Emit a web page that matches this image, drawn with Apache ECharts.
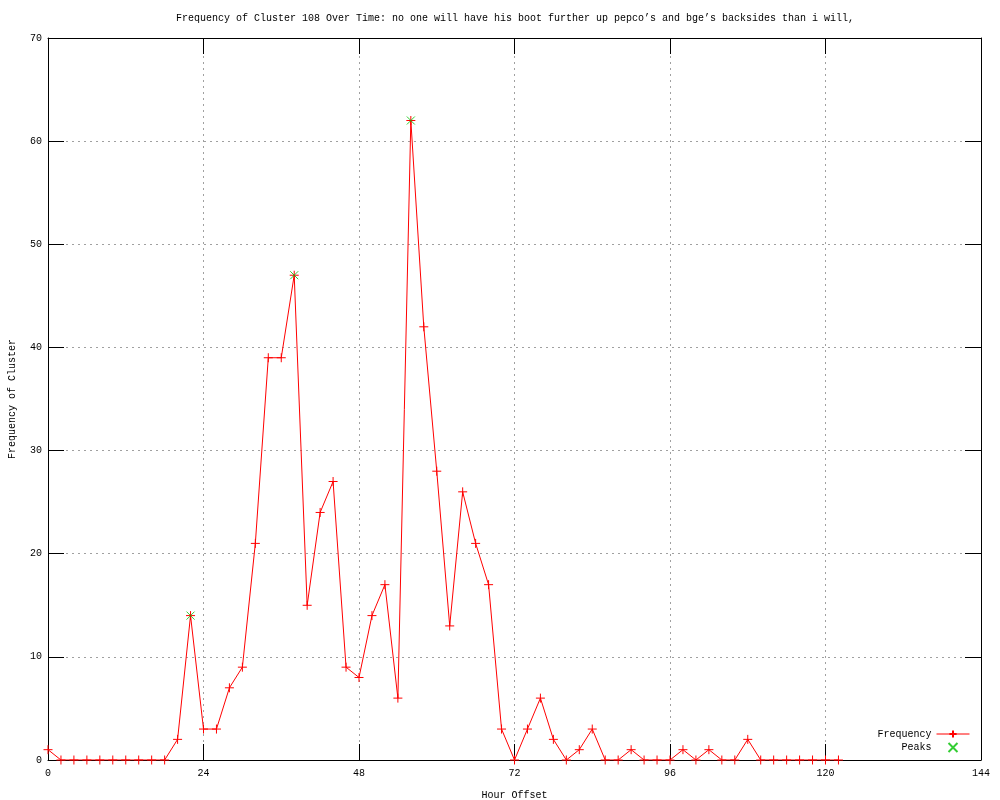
<!DOCTYPE html>
<html>
<head>
<meta charset="utf-8">
<script src="https://cdn.jsdelivr.net/npm/echarts@6/dist/echarts.min.js"></script>
<style>html,body{margin:0;padding:0;background:#fff}#c{width:1000px;height:800px}</style>
</head>
<body>
<div id="c"></div>
<script>
const hours = [0,2,4,6,8,10,12,14,16,18,20,22,24,26,28,30,32,34,36,38,40,42,44,46,48,50,52,54,56,58,60,62,64,66,68,70,72,74,76,78,80,82,84,86,88,90,92,94,96,98,100,102,104,106,108,110,112,114,116,118,120,122];
const freq = [1,0,0,0,0,0,0,0,0,0,2,14,3,3,7,9,21,39,39,47,15,24,27,9,8,14,17,6,62,42,28,13,26,21,17,3,0,3,6,2,0,1,3,0,0,1,0,0,0,1,0,1,0,0,2,0,0,0,0,0,0,0];
const peakHours = [22,38,56];
const peakValues = [14,47,62];
const xTicks = [0,24,48,72,96,120,144];
const yTicks = [0,10,20,30,40,50,60,70];

const FONT = '"Liberation Mono", "DejaVu Sans Mono", monospace';
const chart = echarts.init(document.getElementById('c'), null, {renderer:'canvas'});
const plus = 'path://M5,0L5,10M0,5L10,5';
const cross = 'path://M0,0L10,10M10,0L0,10';
const axisCommon = {
  axisLine:{show:true, onZero:false, lineStyle:{color:'#000', width:1}},
  axisTick:{show:true, inside:true, length:16, lineStyle:{color:'#000', width:1}},
};
chart.setOption({
  animation:false,
  backgroundColor:'#fff',
  title:{text:'Frequency of Cluster 108 Over Time: no one will have his boot further up pepco\u2019s and bge\u2019s backsides than i will,',
    left:171, top:8, textStyle:{fontFamily:FONT, fontSize:10, fontWeight:'normal', color:'#000'}},
  grid:{left:48, right:19, top:38, bottom:40, outerBoundsMode:'none', containLabel:false},
  legend:{
    orient:'vertical', right:25, bottom:42, align:'right', itemGap:3, itemWidth:33, itemHeight:9,
    textStyle:{fontFamily:FONT, fontSize:10, color:'#000'},
    lineStyle:{width:1},
    data:['Frequency','Peaks']
  },
  xAxis:[
    Object.assign({type:'value', min:0, max:144, interval:24, position:'bottom',
      name:'Hour Offset', nameLocation:'middle', nameGap:30,
      nameTextStyle:{fontFamily:FONT, fontSize:10, color:'#000'},
      axisLabel:{fontFamily:FONT, fontSize:10, color:'#000', margin:8},
      splitLine:{show:true, lineStyle:{color:'#a0a0a0', type:[2,4], width:1}}
    }, axisCommon),
    Object.assign({type:'value', min:0, max:144, interval:24, position:'top',
      axisLabel:{show:false}, splitLine:{show:false}}, axisCommon)
  ],
  yAxis:[
    Object.assign({type:'value', min:0, max:70, interval:10, position:'left',
      name:'Frequency of Cluster', nameLocation:'middle', nameGap:31,
      nameTextStyle:{fontFamily:FONT, fontSize:10, color:'#000'},
      axisLabel:{fontFamily:FONT, fontSize:10, color:'#000', margin:6},
      splitLine:{show:true, lineStyle:{color:'#a0a0a0', type:[2,4], width:1}}
    }, axisCommon),
    Object.assign({type:'value', min:0, max:70, interval:10, position:'right',
      axisLabel:{show:false}, splitLine:{show:false}}, axisCommon)
  ],
  series:[
    {name:'Frequency', type:'line', data: hours.map((h,i)=>[h,freq[i]]),
      symbol:plus, symbolSize:9, showAllSymbol:true,
      lineStyle:{color:'#ff0000', width:1},
      itemStyle:{color:'#ff0000', borderColor:'#ff0000', borderWidth:1},
      z:3},
    {name:'Peaks', type:'scatter', data: peakHours.map((h,i)=>[h,peakValues[i]]),
      symbol:cross, symbolSize:8,
      itemStyle:{color:'#00c000', borderColor:'#00c000', borderWidth:1},
      z:4}
  ]
});
</script>
</body>
</html>
